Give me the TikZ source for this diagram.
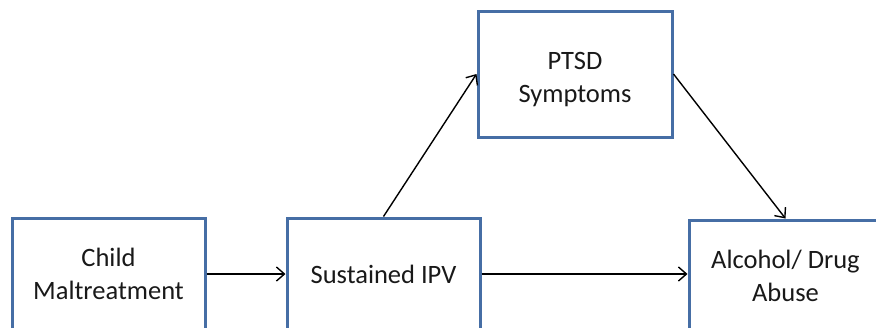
\documentclass[tikz,border=0pt]{standalone}
\usepackage{fontspec}
\setmainfont{Carlito}
\usetikzlibrary{arrows.meta}
\definecolor{boxblue}{RGB}{70,110,165}
\tikzset{
  boxnode/.style={draw=boxblue, line width=3pt, fill=white, align=center,
    font=\fontsize{26.5}{33}\selectfont, text=black!90, inner sep=0pt},
  conn/.style={draw=black, line width=1.4pt, -{Straight Barb[length=8pt,width=14pt,line width=1.4pt]}}
}
\begin{document}
\begin{tikzpicture}[x=1pt,y=-1pt]
\clip (0,0) rectangle (876,327);
\fill[white] (0,0) rectangle (876,327);
\node[boxnode, minimum width=193pt, minimum height=112pt] (child) at (108.5,274) {Child\\Maltreatment};
\node[boxnode, minimum width=193pt, minimum height=112pt] (ipv) at (383.5,274) {Sustained IPV};
\node[boxnode, minimum width=194pt, minimum height=126pt,
  label={[name=ptsdtext, align=center, font=\fontsize{26.5}{33}\selectfont, text=black!90, yshift=-6pt]center:{PTSD\\Symptoms}}] (ptsd) at (575,74) {};
\node[boxnode, minimum width=193pt, minimum height=112pt] (alc) at (785.5,276) {Alcohol/ Drug\\Abuse};
\draw[conn] (child.east) -- (ipv.west);
\draw[conn] (ipv.east) -- (alc.west |- ipv.east);
\draw[conn] (ipv.north) -- (ptsd.west);
\draw[conn] (ptsd.east) -- (alc.north);
\end{tikzpicture}
\end{document}
